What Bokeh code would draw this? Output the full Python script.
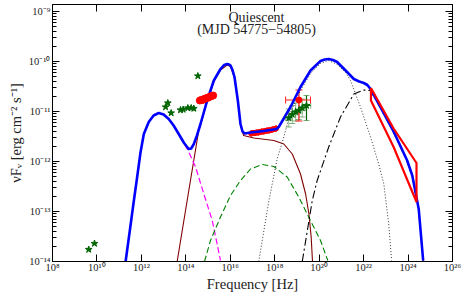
from bokeh.plotting import figure
from bokeh.models import (LogAxis, FixedTicker, CustomJSTickFormatter, Label,
                          Whisker, ColumnDataSource, Range1d, TeeHead)
from bokeh.embed import file_html
from bokeh.resources import INLINE

# ---------------- data (log10 frequency [Hz], log10 nuFnu [erg cm^-2 s^-1]) -------------
total_lognu = [11.29, 11.48, 11.65, 11.81, 11.96, 12.11, 12.33, 12.55, 12.78, 13.00, 13.23, 13.45,
               13.68, 13.92, 14.13, 14.24, 14.36, 14.50, 14.66, 14.96, 15.26, 15.56, 15.72, 15.86,
               15.95, 16.01, 16.10, 16.19, 16.34, 16.46, 16.55, 16.65, 16.91, 17.51, 18.08, 18.18,
               18.26, 18.71, 19.16, 19.61, 20.06, 20.25, 20.43, 20.62, 20.81, 21.19, 21.56, 21.80,
               22.01, 22.17, 22.31, 22.76, 23.36, 23.96, 24.19, 24.48, 24.68]
total_logf = [-14.00, -13.38, -12.82, -12.31, -11.82, -11.45, -11.21, -11.08, -11.03, -11.06, -11.15,
              -11.28, -11.45, -11.63, -11.75, -11.74, -11.65, -11.48, -11.25, -10.78, -10.38, -10.15,
              -10.07, -10.05, -10.06, -10.08, -10.17, -10.31, -10.78, -11.25, -11.40, -11.44, -11.42,
              -11.39, -11.35, -11.31, -11.25, -10.91, -10.51, -10.18, -9.99, -9.96, -9.95, -9.97,
              -10.01, -10.18, -10.35, -10.40, -10.43, -10.47, -10.55, -10.91, -11.41, -11.98, -12.28,
              -12.95, -13.98]

sync1_lognu = [11.29, 11.48, 11.65, 11.81, 11.96, 12.11, 12.33, 12.55, 12.78, 13.00, 13.23, 13.45,
               13.68, 13.92, 14.10, 14.44, 14.81, 15.19, 15.56]
sync1_logf = [-14.00, -13.38, -12.82, -12.31, -11.82, -11.45, -11.21, -11.08, -11.03, -11.06, -11.15,
              -11.28, -11.46, -11.64, -11.78, -12.11, -12.65, -13.18, -13.98]

sync2_lognu = [13.61, 14.06, 14.58, 14.66, 14.96, 15.26, 15.56, 15.86, 16.01, 16.19, 16.34,
               16.46, 16.60, 17.06, 17.96, 18.41, 18.79, 19.16, 19.39, 19.54, 19.64, 19.70]
sync2_logf = [-14.00, -12.78, -11.38, -11.27, -10.80, -10.40, -10.17, -10.07, -10.10, -10.33, -10.80,
              -11.27, -11.48, -11.53, -11.58, -11.65, -11.85, -12.25, -12.65, -13.05, -13.51, -14.00]

ssc_lognu = [14.84, 15.11, 15.56, 16.01, 16.46, 16.91, 17.44, 17.96, 18.56, 19.08, 19.53, 20.06, 20.39]
ssc_logf = [-14.00, -13.58, -13.11, -12.68, -12.38, -12.15, -12.06, -12.10, -12.31, -12.71, -13.11,
            -13.58, -13.98]

ec1_lognu = [17.28, 17.74, 18.11, 18.41, 18.71, 19.16, 19.61, 20.06, 20.43, 20.82, 21.19, 21.41,
             21.86, 22.31, 22.68, 22.91, 23.13, 23.26]
ec1_logf = [-14.00, -12.78, -11.95, -11.51, -11.02, -10.58, -10.24, -10.04, -9.98, -10.06, -10.22,
            -10.38, -10.91, -11.51, -12.05, -12.45, -13.25, -13.98]

ec2_lognu = [19.24, 19.69, 19.91, 20.43, 20.96, 21.56, 22.01, 22.31, 22.76, 23.36, 23.96, 24.19,
             24.48, 24.68]
ec2_logf = [-14.00, -12.78, -12.38, -11.71, -11.11, -10.65, -10.57, -10.58, -10.93, -11.43, -12.00,
            -12.30, -12.96, -14.00]

# Fermi bow-tie
bow_lognu = [22.33, 23.35, 24.38]
bow_upper = [-10.53, -11.34, -12.03]
bow_lower = [-10.78, -11.71, -12.81]

# optical (red) points
opt_lognu = [14.63, 14.69, 14.75, 14.82, 14.88, 14.95, 15.02, 15.09, 15.16, 15.23]
opt_logf = [-10.78, -10.77, -10.77, -10.75, -10.74, -10.73, -10.72, -10.70, -10.69, -10.68]

# X-ray (red) points
xr_lognu = [16.94, 17.02, 17.10, 17.18, 17.26, 17.34, 17.42, 17.50, 17.58, 17.66, 17.74, 17.82,
            17.90, 17.98, 18.06]
xr_logf = [-11.44, -11.43, -11.43, -11.42, -11.42, -11.41, -11.40, -11.40, -11.39, -11.38, -11.38,
           -11.37, -11.36, -11.35, -11.34]

# hard X-ray point with error bars
hx_lognu = [19.09]
hx_logf = [-10.77]
hx_lo_nu = [18.49]
hx_hi_nu = [19.61]
hx_lo_f = [-11.19]
hx_hi_f = [-10.57]

# archival (green stars)
arch_lognu = [9.63, 9.89, 13.09, 13.19, 13.34, 13.76, 13.88, 14.09, 14.24, 14.36, 14.54]
arch_logf = [-13.76, -13.64, -10.91, -10.83, -11.03, -10.97, -10.96, -10.93, -10.93, -10.94, -10.29]

# green stars with error bars
bat_lognu = [18.63, 18.79, 18.94, 19.08, 19.24, 19.43]
bat_logf = [-11.13, -11.06, -11.01, -10.98, -10.93, -10.88]
bat_dnu = [0.15, 0.15, 0.15, 0.15, 0.15, 0.19]
bat_df_lo = [0.18, 0.18, 0.18, 0.18, 0.18, 0.30]
bat_df_hi = [0.18, 0.18, 0.18, 0.18, 0.18, 0.20]

x_tick_exp = [8, 10, 12, 14, 16, 18, 20, 22, 24, 26]
x_tick_labels = ["10⁸", "10¹⁰", "10¹²", "10¹⁴", "10¹⁶", "10¹⁸", "10²⁰", "10²²", "10²⁴", "10²⁶"]
y_tick_exp = [-14, -13, -12, -11, -10, -9]
y_tick_labels = ["10⁻¹⁴", "10⁻¹³", "10⁻¹²", "10⁻¹¹", "10⁻¹⁰", "10⁻⁹"]

title_lines = ["Quiescent", "(MJD 54775−54805)"]
x_label = "Frequency [Hz]"
y_label = "νFᵥ [erg cm⁻² s⁻¹]"


def p10(a):
    return [10 ** v for v in a]


FONT = "Liberation Serif"

p = figure(x_axis_type="log", y_axis_type="log",
           x_range=Range1d(1e8, 1e26), y_range=Range1d(1e-14, 10 ** -8.86),
           frame_width=400, frame_height=257,
           min_border_left=52, min_border_right=10, min_border_top=4, min_border_bottom=32,
           output_backend="svg", toolbar_location=None)
p.xgrid.visible = False
p.ygrid.visible = False
p.outline_line_color = "black"
p.outline_line_width = 1
p.background_fill_color = "white"
p.border_fill_color = "white"

fmt_js = """
for (let i = 0; i < exps.length; i++) {
  if (Math.abs(Math.log10(tick) - exps[i]) < 0.01) { return labels[i]; }
}
return "";
"""
x_fmt = CustomJSTickFormatter(args=dict(exps=x_tick_exp, labels=x_tick_labels), code=fmt_js)
y_fmt = CustomJSTickFormatter(args=dict(exps=y_tick_exp, labels=y_tick_labels), code=fmt_js)
empty_fmt = CustomJSTickFormatter(code='return "";')

x_ticker = FixedTicker(ticks=[10.0 ** e for e in x_tick_exp], minor_ticks=[])
y_minor = [k * 10.0 ** e for e in range(-14, -8) for k in range(2, 10)]
y_ticker = FixedTicker(ticks=[10.0 ** e for e in y_tick_exp], minor_ticks=y_minor)


def style_axis(ax):
    ax.major_tick_in = 7
    ax.major_tick_out = 0
    ax.minor_tick_in = 4
    ax.minor_tick_out = 0
    ax.axis_line_color = "black"
    ax.major_tick_line_color = "black"
    ax.minor_tick_line_color = "black"
    ax.major_label_text_font = FONT
    ax.major_label_text_font_size = "10.5px"
    ax.major_label_text_color = "#222222"
    ax.axis_label_text_font = FONT
    ax.axis_label_text_font_style = "normal"
    ax.axis_label_text_font_size = "14.5px"
    ax.axis_label_text_color = "#222222"


xa = p.xaxis[0]
xa.ticker = x_ticker
xa.formatter = x_fmt
style_axis(xa)
xa.major_label_standoff = 0
xa.axis_label = x_label
xa.axis_label_standoff = 0

ya = p.yaxis[0]
ya.ticker = y_ticker
ya.formatter = y_fmt
style_axis(ya)
ya.major_label_standoff = 2
ya.axis_label = y_label
ya.axis_label_standoff = 2

top = LogAxis(ticker=x_ticker, formatter=empty_fmt)
style_axis(top)
top.major_label_text_font_size = "0px"
top.major_label_standoff = 0
p.add_layout(top, "above")

right = LogAxis(ticker=y_ticker, formatter=empty_fmt)
style_axis(right)
right.major_label_text_font_size = "0px"
right.major_label_standoff = 0
p.add_layout(right, "right")

# model components
p.line(p10(sync2_lognu), p10(sync2_logf), line_color="#800000", line_width=1.1)
p.line(p10(sync1_lognu), p10(sync1_logf), line_color="#ff00ff", line_width=1.2, line_dash="6 3")
p.line(p10(ssc_lognu), p10(ssc_logf), line_color="#008000", line_width=1.1, line_dash="6 3")
p.line(p10(ec1_lognu), p10(ec1_logf), line_color="#333333", line_width=1.0, line_dash="1 2")
p.line(p10(ec2_lognu), p10(ec2_logf), line_color="black", line_width=1.1, line_dash="8 3 2 3")

# X-ray data band
xr_src = ColumnDataSource(dict(x=p10(xr_lognu), y=p10(xr_logf),
                               lo=[10 ** (v - 0.06) for v in xr_logf],
                               hi=[10 ** (v + 0.06) for v in xr_logf]))
p.add_layout(Whisker(source=xr_src, base="x", lower="lo", upper="hi", dimension="height",
                     line_color="#ff0000", line_width=2,
                     lower_head=None, upper_head=None))
p.scatter("x", "y", source=xr_src, size=5, color="#ff0000")

# total model
p.line(p10(total_lognu), p10(total_logf), line_color="#0000ff", line_width=2.6,
       line_join="round")

# Fermi bow-tie
bow_x = p10(bow_lognu) + p10(bow_lognu[::-1]) + [10 ** bow_lognu[0]]
bow_y = p10(bow_upper) + p10(bow_lower[::-1]) + [10 ** bow_upper[0]]
p.line(bow_x, bow_y, line_color="#ff0000", line_width=2.2)

# optical data
p.scatter(p10(opt_lognu), p10(opt_logf), size=7, color="#ff0000")

# green stars with error bars (faint)
bat_src = ColumnDataSource(dict(
    x=p10(bat_lognu), y=p10(bat_logf),
    xlo=[10 ** (a - d) for a, d in zip(bat_lognu, bat_dnu)],
    xhi=[10 ** (a + d) for a, d in zip(bat_lognu, bat_dnu)],
    ylo=[10 ** (a - d) for a, d in zip(bat_logf, bat_df_lo)],
    yhi=[10 ** (a + d) for a, d in zip(bat_logf, bat_df_hi)],
    alpha=[0.35, 0.35, 0.35, 0.35, 0.35, 1.0]))
for dim, lo, hi in (("height", "ylo", "yhi"), ("width", "xlo", "xhi")):
    p.add_layout(Whisker(source=bat_src, base="x" if dim == "height" else "y",
                         lower=lo, upper=hi, dimension=dim,
                         line_color="#006400", line_alpha="alpha", line_width=1.2,
                         lower_head=TeeHead(size=6, line_color="#006400", line_alpha=0.5),
                         upper_head=TeeHead(size=6, line_color="#006400", line_alpha=0.5)))
p.scatter("x", "y", source=bat_src, marker="star", size=7, color="#006400")

# hard X-ray point
hx_src = ColumnDataSource(dict(x=p10(hx_lognu), y=p10(hx_logf), xlo=p10(hx_lo_nu), xhi=p10(hx_hi_nu),
                               ylo=p10(hx_lo_f), yhi=p10(hx_hi_f)))
p.add_layout(Whisker(source=hx_src, base="x", lower="ylo", upper="yhi", dimension="height",
                     line_color="#ff2020", line_width=1.2,
                     lower_head=TeeHead(size=7, line_color="#ff2020"),
                     upper_head=TeeHead(size=7, line_color="#ff2020")))
p.add_layout(Whisker(source=hx_src, base="y", lower="xlo", upper="xhi", dimension="width",
                     line_color="#ff2020", line_width=1.2,
                     lower_head=TeeHead(size=7, line_color="#ff2020"),
                     upper_head=TeeHead(size=7, line_color="#ff2020")))
p.scatter("x", "y", source=hx_src, size=6, color="#ff0000")

# archival green stars
p.scatter(p10(arch_lognu), p10(arch_logf), marker="star", size=7, color="#006400")

# title inside the frame
p.add_layout(Label(x=10 ** 17.18, y=10 ** -9.114, text=title_lines[0], text_align="center",
                   text_baseline="middle", text_font=FONT, text_font_size="14px",
                   text_color="#222222"))
p.add_layout(Label(x=10 ** 17.18, y=10 ** -9.35, text=title_lines[1], text_align="center",
                   text_baseline="middle", text_font=FONT, text_font_size="14px",
                   text_color="#222222"))

open("out.html", "w").write(file_html(p, INLINE))
